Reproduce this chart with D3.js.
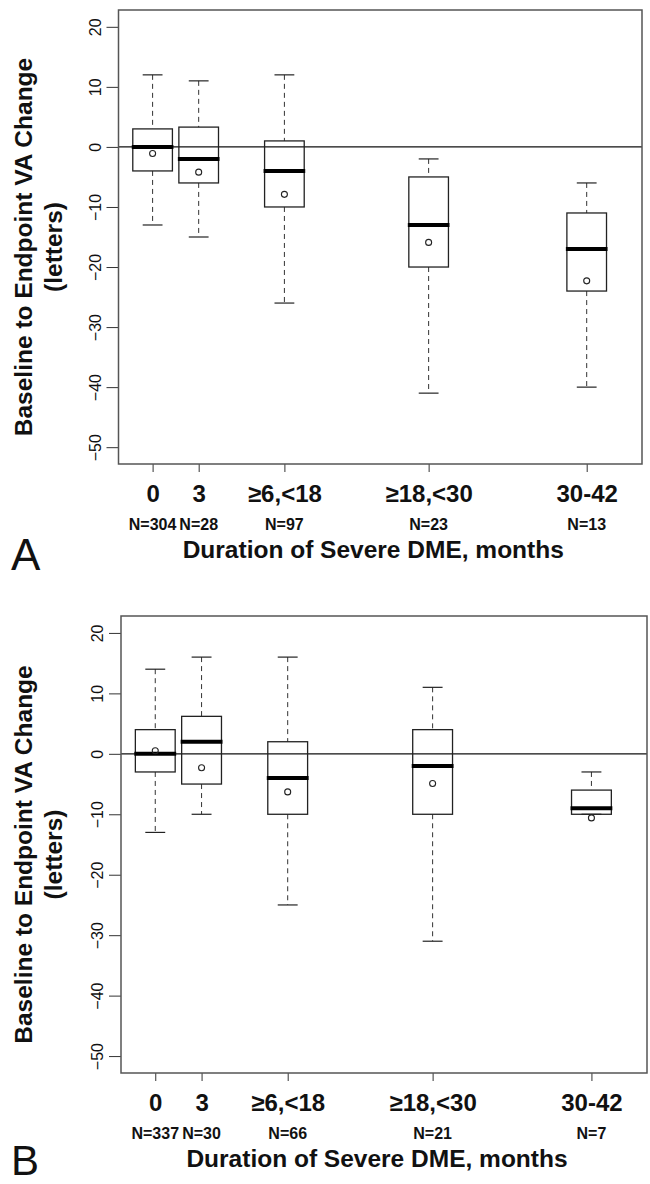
<!DOCTYPE html>
<html>
<head>
<meta charset="utf-8">
<script src="https://cdn.jsdelivr.net/npm/d3@7"></script>
<style>
  body { margin: 0; background: #fff; }
  svg { display: block; font-family: 'Liberation Sans', Arial, sans-serif; }
</style>
</head>
<body>
<script>
// categories and where each box sits along the x axis
const groups = ['0', '3', '≥6,<18', '≥18,<30', '30-42']
const slots = [0, 1, 2.86, 5.99, 9.42]
const yTicks = [20, 10, 0, -10, -20, -30, -40, -50]

// panel A
const nA = [304, 28, 97, 23, 13]
const hiA = [12, 11, 12, -2, -6]
const q3A = [3, 3.3, 1, -5, -11]
const medA = [0, -2, -4, -13, -17]
const q1A = [-4, -6, -10, -20, -24]
const loA = [-13, -15, -26, -41, -40]
const meanA = [-1.1, -4.2, -7.9, -15.9, -22.3]

// panel B
const nB = [337, 30, 66, 21, 7]
const hiB = [14, 16, 16, 11, -3]
const q3B = [4, 6.2, 2, 4, -6]
const medB = [0, 2, -4, -2, -9]
const q1B = [-3, -5, -10, -10, -10]
const loB = [-13, -10, -25, -31, -10]
const meanB = [0.5, -2.3, -6.3, -4.9, -10.6]

const xDomain = [-0.74, 10.62]
const yDomain = [-52.8, 22.8]
const boxWidth = 0.86

const svg = d3.select('body').append('svg')
  .attr('width', 650)
  .attr('height', 1184)

const panels = [
  { letter: 'A', n: nA, hi: hiA, q3: q3A, med: medA, q1: q1A, lo: loA, mean: meanA,
    top: 10, bottom: 464, left: 118.5, right: 642, letterY: 570, letterSize: 44 },
  { letter: 'B', n: nB, hi: hiB, q3: q3B, med: medB, q1: q1B, lo: loB, mean: meanB,
    top: 616, bottom: 1073, left: 121, right: 647, letterY: 1175, letterSize: 42 }
]

const drawPanel = p => {
  const x = d3.scaleLinear().domain(xDomain).range([p.left, p.right])
  const y = d3.scaleLinear().domain(yDomain).range([p.bottom, p.top])
  const bw = x(boxWidth) - x(0)
  const rows = groups.map((g, i) => ({
    g, slot: slots[i], n: p.n[i], hi: p.hi[i], q3: p.q3[i],
    med: p.med[i], q1: p.q1[i], lo: p.lo[i], mean: p.mean[i]
  }))

  const g = svg.append('g')

  // y axis, labels turned to run along the axis
  g.append('g')
    .attr('transform', `translate(${p.left}, 0)`)
    .call(d3.axisLeft(y).tickValues(yTicks).tickSize(12).tickSizeOuter(0))
    .call(a => a.select('.domain').remove())
    .call(a => a.selectAll('line').attr('stroke', '#333'))
    .call(a => a.selectAll('text')
      .attr('x', null).attr('dy', null)
      .attr('transform', 'translate(-18, 0) rotate(-90)')
      .attr('text-anchor', 'middle')
      .attr('fill', '#111')
      .style('font-size', '16px'))

  // x axis with group names
  g.append('g')
    .attr('transform', `translate(0, ${p.bottom})`)
    .call(d3.axisBottom(x).tickValues(slots).tickSize(8).tickSizeOuter(0)
      .tickFormat((d, i) => groups[i]))
    .call(a => a.select('.domain').remove())
    .call(a => a.selectAll('line').attr('stroke', '#333'))
    .call(a => a.selectAll('text')
      .attr('y', 38).attr('dy', null)
      .attr('fill', '#111')
      .style('font-size', '24px')
      .style('font-weight', 'bold'))

  // sample sizes
  g.selectAll('.nlab').data(rows).enter().append('text')
    .attr('class', 'nlab')
    .attr('x', d => x(d.slot))
    .attr('y', p.bottom + 66)
    .attr('text-anchor', 'middle')
    .style('font-size', '16px')
    .style('font-weight', 'bold')
    .attr('fill', '#111')
    .text(d => `N=${d.n}`)

  // zero reference line
  g.append('line')
    .attr('x1', p.left).attr('x2', p.right)
    .attr('y1', y(0)).attr('y2', y(0))
    .attr('stroke', '#111').attr('stroke-width', 1.2)

  const box = g.selectAll('.box').data(rows).enter().append('g').attr('class', 'box')

  // whiskers
  box.append('line')
    .attr('x1', d => x(d.slot)).attr('x2', d => x(d.slot))
    .attr('y1', d => y(d.hi)).attr('y2', d => y(d.q3))
    .attr('stroke', '#333').attr('stroke-dasharray', '5,4')
  box.append('line')
    .attr('x1', d => x(d.slot)).attr('x2', d => x(d.slot))
    .attr('y1', d => y(d.q1)).attr('y2', d => y(d.lo))
    .attr('stroke', '#333').attr('stroke-dasharray', '5,4')
  // caps
  box.selectAll('.cap').data(d => [[d.slot, d.hi], [d.slot, d.lo]]).enter().append('line')
    .attr('class', 'cap')
    .attr('x1', d => x(d[0]) - bw / 4).attr('x2', d => x(d[0]) + bw / 4)
    .attr('y1', d => y(d[1])).attr('y2', d => y(d[1]))
    .attr('stroke', '#222').attr('stroke-width', 1.2)

  box.append('rect')
    .attr('x', d => x(d.slot) - bw / 2)
    .attr('y', d => y(d.q3))
    .attr('width', bw)
    .attr('height', d => y(d.q1) - y(d.q3))
    .attr('fill', 'none')
    .attr('stroke', '#222').attr('stroke-width', 1.3)

  box.append('line')
    .attr('x1', d => x(d.slot) - bw / 2 - 1).attr('x2', d => x(d.slot) + bw / 2 + 1)
    .attr('y1', d => y(d.med)).attr('y2', d => y(d.med))
    .attr('stroke', '#000').attr('stroke-width', 4)

  box.append('circle')
    .attr('cx', d => x(d.slot))
    .attr('cy', d => y(d.mean))
    .attr('r', 3)
    .attr('fill', 'none')
    .attr('stroke', '#222').attr('stroke-width', 1.1)

  // plot frame
  g.append('rect')
    .attr('x', p.left).attr('y', p.top)
    .attr('width', p.right - p.left).attr('height', p.bottom - p.top)
    .attr('fill', 'none').attr('stroke', '#555').attr('stroke-width', 1.5)

  // axis titles
  const midY = (p.top + p.bottom) / 2 + 10
  const yt = g.append('text')
    .attr('transform', `translate(32, ${midY}) rotate(-90)`)
    .attr('text-anchor', 'middle')
    .style('font-size', '24.5px')
    .style('font-weight', 'bold')
    .attr('fill', '#111')
  yt.append('tspan').attr('x', 0).attr('dy', 0).text('Baseline to Endpoint VA Change')
  yt.append('tspan').attr('x', 0).attr('dy', 30).text('(letters)')

  g.append('text')
    .attr('x', (p.left + p.right) / 2 - 7)
    .attr('y', p.bottom + 94)
    .attr('text-anchor', 'middle')
    .style('font-size', '24.5px')
    .style('font-weight', 'bold')
    .attr('fill', '#111')
    .text('Duration of Severe DME, months')

  g.append('text')
    .attr('x', 11)
    .attr('y', p.letterY)
    .style('font-size', `${p.letterSize}px`)
    .attr('fill', '#111')
    .text(p.letter)
}

panels.forEach(drawPanel)
</script>
</body>
</html>
